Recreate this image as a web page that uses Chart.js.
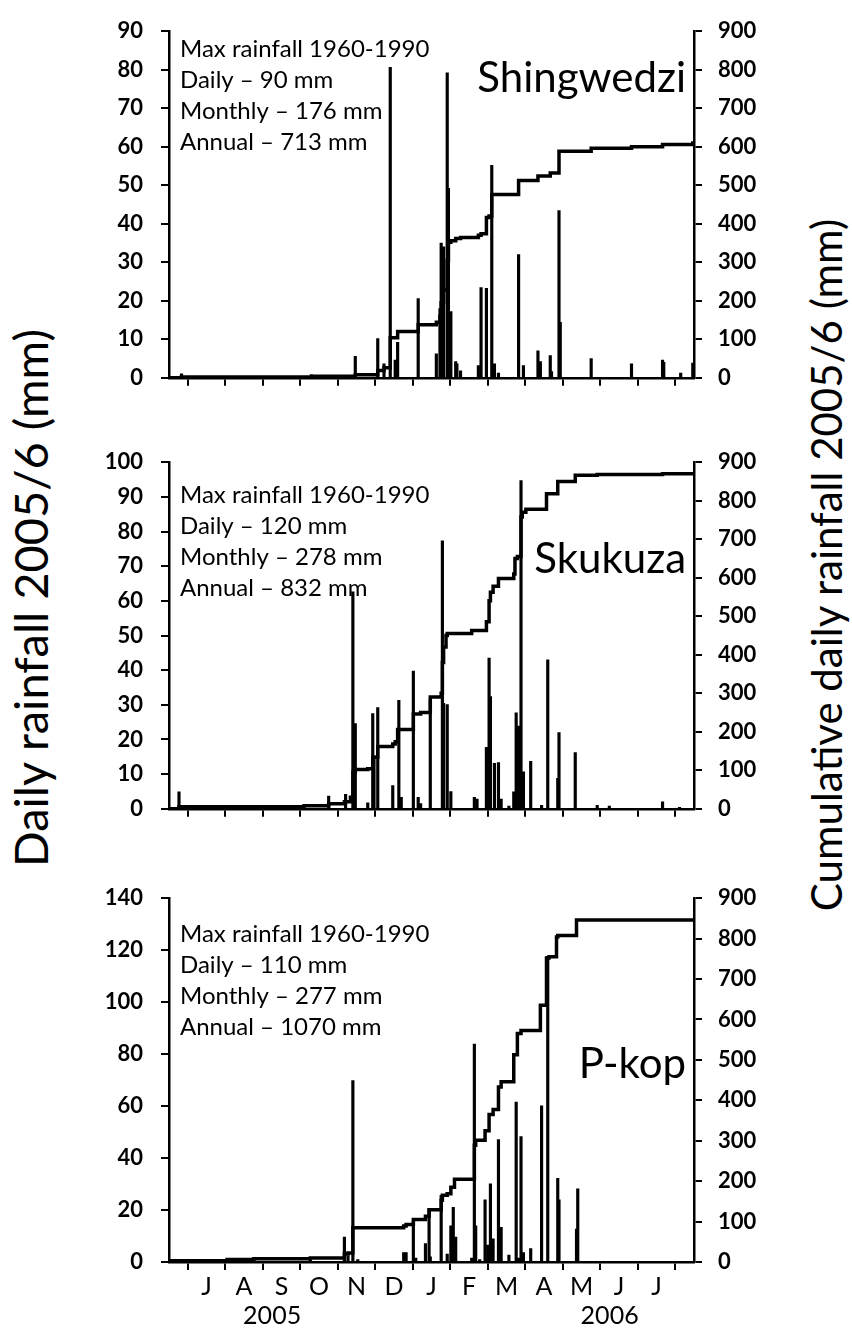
<!DOCTYPE html>
<html>
<head>
<meta charset="utf-8">
<script src="https://cdn.jsdelivr.net/npm/chart.js@4.4.1/dist/chart.umd.min.js"></script>
<style>
  body { margin: 0; background: #fff; }
  #page { position: relative; width: 852px; height: 1328px; overflow: hidden; background: #fff; }
  #page canvas { position: absolute; left: 0; }
  .ytitle {
    position: absolute; white-space: nowrap; color: #000;
    font-family: Lato, "Open Sans", sans-serif;
    transform: translate(-50%, -50%) rotate(-90deg);
  }
</style>
</head>
<body>
<div id="page">
  <div class="ytitle" style="left:30px; top:598px; font-size:47px;">Daily rainfall 2005/6 (mm)</div>
  <div class="ytitle" style="left:826px; top:565px; font-size:42px;">Cumulative daily rainfall 2005/6 (mm)</div>
</div>
<script>
// ---- axis labels ----
const monthLabels = ['', 'J', 'A', 'S', 'O', 'N', 'D', 'J', 'F', 'M', 'A', 'M', 'J', 'J', ''];
const yearLabels = ['2005', '2006'];
const yearPos = [2.75, 11.75];

// ---- Shingwedzi ----
const shingRainDays = ['2005-06-11', '2005-09-25', '2005-10-31', '2005-11-18', '2005-11-23', '2005-11-28',
  '2005-12-02', '2005-12-04', '2005-12-21', '2006-01-05', '2006-01-08', '2006-01-09', '2006-01-11',
  '2006-01-14', '2006-01-15', '2006-01-17', '2006-01-21', '2006-01-22', '2006-01-25', '2006-02-08',
  '2006-02-10', '2006-02-14', '2006-02-18', '2006-02-20', '2006-02-23', '2006-03-11', '2006-03-15',
  '2006-03-27', '2006-03-29', '2006-04-06', '2006-04-07', '2006-04-13', '2006-04-14', '2006-05-09',
  '2006-06-11', '2006-07-06', '2006-07-07', '2006-07-21', '2006-07-31'];
const shingRain = [1.0, 0.8, 5.6, 10.2, 3.6, 80.6,
  4.6, 9.2, 20.6, 6.2, 18.0, 35.0, 34.0,
  79.2, 49.2, 17.2, 4.2, 3.6, 1.8, 3.2,
  23.4, 23.2, 55.2, 3.6, 1.2, 32.0, 3.2,
  7.0, 4.2, 5.8, 1.6, 43.4, 14.4, 5.0,
  3.6, 4.6, 4.0, 1.2, 3.8];
const shingCumDays = ['2005-06-01', '2005-06-11', '2005-09-25', '2005-10-31', '2005-11-18', '2005-11-23',
  '2005-11-28', '2005-12-04', '2005-12-21', '2006-01-05', '2006-01-08', '2006-01-09', '2006-01-11',
  '2006-01-14', '2006-01-15', '2006-01-17', '2006-01-21', '2006-01-25', '2006-02-08', '2006-02-10',
  '2006-02-14', '2006-02-16', '2006-02-18', '2006-03-11', '2006-03-27', '2006-04-06', '2006-04-13',
  '2006-05-09', '2006-06-11', '2006-07-06', '2006-07-31', '2006-08-01'];
const shingCum = [0, 2, 4, 8, 19, 26,
  104, 120, 138, 144, 160, 195, 228,
  305, 352, 356, 362, 364, 370, 374,
  416, 420, 476, 512, 524, 532, 588,
  596, 600, 606, 610, 610];

// ---- Skukuza ----
const skukRainDays = ['2005-06-09', '2005-10-09', '2005-10-23', '2005-10-29', '2005-10-31', '2005-11-10',
  '2005-11-14', '2005-11-15', '2005-11-18', '2005-11-30', '2005-12-05', '2005-12-07', '2005-12-17',
  '2005-12-21', '2005-12-23', '2005-12-31', '2006-01-10', '2006-01-11', '2006-01-14', '2006-01-17',
  '2006-02-05', '2006-02-07', '2006-02-14', '2006-02-16', '2006-02-17', '2006-02-20', '2006-02-23',
  '2006-02-25', '2006-03-03', '2006-03-07', '2006-03-09', '2006-03-11', '2006-03-13', '2006-03-15',
  '2006-03-21', '2006-03-30', '2006-04-04', '2006-04-12', '2006-04-13', '2006-04-26', '2006-05-14',
  '2006-05-24', '2006-07-06', '2006-07-20'];
const skukRain = [4.9, 3.7, 4.2, 62.6, 24.6, 1.7,
  27.5, 15.3, 29.2, 6.7, 31.3, 3.3, 39.7,
  3.3, 1.5, 31.5, 77.3, 30.4, 30.1, 5.0,
  3.3, 2.8, 17.7, 43.5, 32.4, 13.1, 13.3,
  2.8, 0.8, 4.9, 27.7, 23.9, 94.7, 10.7,
  13.7, 1.0, 43.0, 8.8, 22.0, 16.2, 1.0,
  0.8, 2.0, 0.4];
const skukCumDays = ['2005-06-01', '2005-06-09', '2005-09-19', '2005-10-09', '2005-10-22', '2005-10-27',
  '2005-10-29', '2005-10-31', '2005-11-10', '2005-11-14', '2005-11-18', '2005-11-30', '2005-12-02',
  '2005-12-04', '2005-12-17', '2005-12-23', '2005-12-31', '2006-01-09', '2006-01-10', '2006-01-11',
  '2006-01-13', '2006-01-14', '2006-02-03', '2006-02-14', '2006-02-16', '2006-02-17', '2006-02-19',
  '2006-02-23', '2006-03-07', '2006-03-08', '2006-03-10', '2006-03-13', '2006-03-14', '2006-03-17',
  '2006-04-03', '2006-04-12', '2006-04-26', '2006-05-14', '2006-07-06', '2006-08-01'];
const skukCum = [0, 5, 8, 13, 18, 30,
  95, 102, 104, 134, 162, 168, 174,
  206, 246, 250, 290, 300, 380, 420,
  450, 455, 463, 486, 540, 562, 578,
  598, 610, 650, 655, 758, 770, 778,
  818, 850, 866, 868, 870, 870];

// ---- P-kop ----
const pkopRainDays = ['2005-07-18', '2005-08-09', '2005-09-24', '2005-10-22', '2005-10-25', '2005-10-29',
  '2005-11-02', '2005-12-09', '2005-12-11', '2005-12-17', '2005-12-19', '2005-12-27', '2005-12-30',
  '2005-12-31', '2006-01-09', '2006-01-14', '2006-01-17', '2006-01-19', '2006-01-21', '2006-02-03',
  '2006-02-05', '2006-02-06', '2006-02-09', '2006-02-13', '2006-02-15', '2006-02-17', '2006-02-19',
  '2006-02-23', '2006-02-24', '2006-02-25', '2006-03-03', '2006-03-09', '2006-03-11', '2006-03-13',
  '2006-03-15', '2006-03-21', '2006-03-30', '2006-04-04', '2006-04-12', '2006-04-13', '2006-04-27',
  '2006-04-28'];
const pkopRain = [0.9, 1.4, 1.1, 9.6, 2.4, 69.8,
  0.9, 3.6, 3.6, 15.8, 1.5, 7.1, 20.7,
  2.0, 25.7, 3.0, 13.9, 21.0, 9.6, 1.5,
  83.9, 13.9, 0.9, 23.9, 6.5, 30.1, 8.9,
  47.1, 13.3, 13.3, 2.7, 61.5, 1.5, 48.3,
  3.6, 5.2, 60.1, 117.6, 32.2, 23.9, 12.7,
  28.2];
const pkopCumDays = ['2005-06-01', '2005-07-18', '2005-08-09', '2005-09-24', '2005-10-22', '2005-10-25',
  '2005-10-29', '2005-12-09', '2005-12-11', '2005-12-17', '2005-12-27', '2005-12-30', '2006-01-09',
  '2006-01-10', '2006-01-14', '2006-01-17', '2006-01-20', '2006-02-05', '2006-02-06', '2006-02-13',
  '2006-02-16', '2006-02-19', '2006-02-23', '2006-02-25', '2006-03-07', '2006-03-10', '2006-03-13',
  '2006-03-29', '2006-04-03', '2006-04-05', '2006-04-11', '2006-04-12', '2006-04-27', '2006-08-01'];
const pkopCum = [3, 6, 8, 10, 20, 22,
  85, 89, 93, 105, 113, 129, 153,
  165, 169, 185, 205, 289, 301, 325,
  365, 377, 433, 446, 513, 565, 573,
  635, 752, 755, 804, 808, 846, 846];

// 1960-1990 maxima printed in each panel
const shingNotes = ['Max rainfall 1960-1990', 'Daily \u2013 90 mm', 'Monthly \u2013 176 mm', 'Annual \u2013 713 mm'];
const skukNotes = ['Max rainfall 1960-1990', 'Daily \u2013 120 mm', 'Monthly \u2013 278 mm', 'Annual \u2013 832 mm'];
const pkopNotes = ['Max rainfall 1960-1990', 'Daily \u2013 110 mm', 'Monthly \u2013 277 mm', 'Annual \u2013 1070 mm'];

// months since 1 June 2005, each month the same width on the axis
function monthPos(d) {
  const [y, m, dd] = d.split('-').map(Number);
  const daysIn = new Date(y, m, 0).getDate();
  return (y - 2005) * 12 + (m - 6) + (dd - 1) / daysIn;
}
const toPoints = (days, vals) => days.map((d, i) => ({ x: monthPos(d), y: vals[i] }));

const FONT = 'Lato, "Open Sans", sans-serif';
const PLOT_LEFT = 169, PLOT_RIGHT = 694, PAD_TOP = 20;

const panels = [
  { name: 'Shingwedzi', notes: shingNotes, top: 20, bottom: 395, leftMax: 90, leftStep: 10,
    noteTop: 18, nameTop: 46, rain: toPoints(shingRainDays, shingRain), cum: toPoints(shingCumDays, shingCum) },
  { name: 'Skukuza', notes: skukNotes, top: 451, bottom: 826, leftMax: 100, leftStep: 10,
    noteTop: 33, nameTop: 96, rain: toPoints(skukRainDays, skukRain), cum: toPoints(skukCumDays, skukCum) },
  { name: 'P-kop', notes: pkopNotes, top: 887, bottom: 1262, leftMax: 140, leftStep: 20,
    noteTop: 36, nameTop: 165, rain: toPoints(pkopRainDays, pkopRain), cum: toPoints(pkopCumDays, pkopCum),
    months: true }
];

// station name, notes and year labels drawn over each panel
const panelText = {
  id: 'panelText',
  afterDraw(chart, args, opts) {
    const { ctx, chartArea } = chart;
    ctx.save();
    ctx.fillStyle = '#000';
    ctx.textBaseline = 'alphabetic';
    ctx.textAlign = 'left';
    ctx.font = '24px ' + FONT;
    opts.notes.forEach((t, i) => {
      ctx.fillText(t, chartArea.left + 11, chartArea.top + opts.noteTop + i * 31 + 8);
    });
    ctx.font = '42px ' + FONT;
    ctx.textAlign = 'right';
    ctx.fillText(opts.name, chartArea.right - 8, chartArea.top + opts.nameTop + 15);
    if (opts.months) {
      const x = chart.scales.x;
      ctx.font = '25px ' + FONT;
      ctx.textAlign = 'center';
      yearLabels.forEach((y, i) => ctx.fillText(y, x.getPixelForValue(yearPos[i]), chartArea.bottom + 62));
    }
    ctx.restore();
  }
};

const axisLine = { color: '#000', width: 2.5 };
const tickGrid = { drawOnChartArea: false, drawTicks: true, tickLength: 8, color: '#000', lineWidth: 2 };

const page = document.getElementById('page');
panels.forEach(p => {
  const xAxisH = p.months ? 66 : 14;
  const canvas = document.createElement('canvas');
  canvas.width = 852;
  canvas.height = (p.bottom - p.top) + PAD_TOP + xAxisH;
  canvas.style.top = (p.top - PAD_TOP) + 'px';
  page.appendChild(canvas);

  new Chart(canvas, {
    type: 'bar',
    data: {
      datasets: [
        { type: 'line', data: p.cum, yAxisID: 'y1', borderColor: '#000', borderWidth: 3.5,
          pointRadius: 0, stepped: true, fill: false, order: 1 },
        { type: 'bar', data: p.rain, yAxisID: 'y', backgroundColor: '#000', borderWidth: 0,
          barThickness: 2.5, order: 2 }
      ]
    },
    options: {
      responsive: false,
      devicePixelRatio: 1,
      animation: false,
      layout: { padding: { top: PAD_TOP, left: 0, right: 0, bottom: 0 } },
      plugins: {
        legend: { display: false },
        tooltip: { enabled: false },
        panelText: { name: p.name, notes: p.notes, noteTop: p.noteTop, nameTop: p.nameTop, months: !!p.months }
      },
      scales: {
        x: {
          type: 'linear', min: 0, max: 14, offset: false,
          grid: tickGrid, border: axisLine,
          ticks: {
            stepSize: 1, autoSkip: false, maxRotation: 0, color: '#000', padding: 2,
            font: { family: FONT, size: 25 },
            callback: (v, i) => p.months ? monthLabels[i] : ''
          },
          afterFit: s => { s.height = xAxisH; }
        },
        y: {
          position: 'left', min: 0, max: p.leftMax,
          grid: tickGrid, border: axisLine,
          ticks: { stepSize: p.leftStep, color: '#000', padding: 18,
            font: { family: FONT, size: 22, weight: 'bold' } },
          afterFit: s => { s.width = PLOT_LEFT; }
        },
        y1: {
          position: 'right', min: 0, max: 900,
          grid: tickGrid, border: axisLine,
          ticks: { stepSize: 100, color: '#000', padding: 16,
            font: { family: FONT, size: 22, weight: 'bold' } },
          afterFit: s => { s.width = 852 - PLOT_RIGHT; }
        }
      }
    },
    plugins: [panelText]
  });
});
</script>
</body>
</html>
